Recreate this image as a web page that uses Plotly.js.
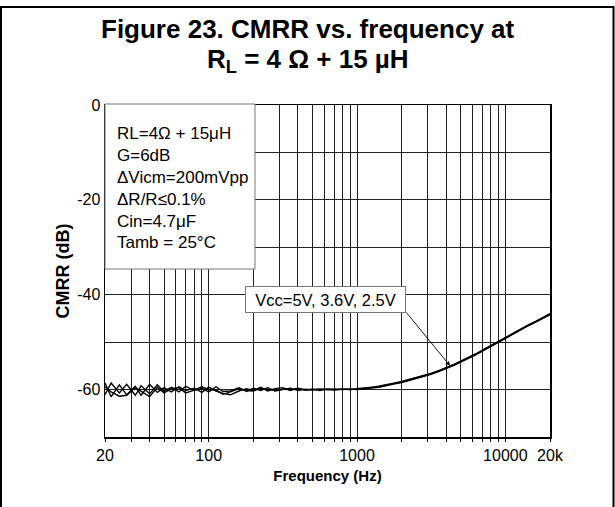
<!DOCTYPE html>
<html>
<head>
<meta charset="utf-8">
<script src="https://cdn.plot.ly/plotly-3.0.1.min.js"></script>
<style>html,body{margin:0;padding:0;background:#fff;}#chart{width:615px;height:507px;}</style>
</head>
<body>
<div id="chart"></div>
<script>
// ---- data ----
const freqHz = [20,22,25,28,32,35,40,45,50,56,63,70,80,90,
  100,112,125,140,160,180,200,224,250,280,315,355,400,450,500,560,630,710,800,900,
  1000,1120,1250,1400,1600,1800,2000,2240,2500,2800,3150,3550,4000,4500,5000,5600,6300,7100,8000,9000,
  10000,11200,12500,14000,16000,18000,20000];

const cmrrA = [-58.6,-61.5,-59.0,-61.1,-59.3,-61.2,-58.9,-60.6,-59.6,-60.5,-59.4,-60.2,-59.7,-60.6,
  -59.5,-60.3,-60.8,-61.1,-60.3,-59.8,-60.2,-59.5,-60.3,-59.8,-59.6,-60.2,-59.7,-60.1,-59.9,-60.2,-59.9,-60.0,-59.9,-60.0,
  -59.9,-59.8,-59.6,-59.4,-59.1,-58.7,-58.4,-58.0,-57.6,-57.2,-56.7,-56.1,-55.5,-54.8,-54.1,-53.4,-52.6,-51.7,-50.8,-49.9,
  -49.0,-48.2,-47.4,-46.6,-45.7,-44.9,-44.1];

const cmrrB = [-61.1,-58.6,-60.7,-58.9,-61.2,-59.2,-60.9,-59.0,-60.4,-59.5,-60.5,-59.3,-60.2,-59.7,
  -60.5,-59.4,-60.4,-60.3,-59.6,-60.4,-59.7,-60.2,-59.6,-60.3,-60.0,-59.7,-60.2,-59.9,-60.1,-59.9,-60.0,-59.9,-60.0,-59.9,
  -60.0,-59.9,-59.7,-59.5,-59.2,-58.8,-58.5,-58.1,-57.7,-57.3,-56.8,-56.2,-55.6,-54.9,-54.2,-53.5,-52.7,-51.8,-50.9,-50.0,
  -49.1,-48.3,-47.5,-46.7,-45.8,-45.0,-44.2];

const cmrrC = [-59.4,-60.5,-61.4,-61.2,-59.6,-60.3,-61.5,-59.5,-60.7,-59.8,-59.6,-60.7,-60.1,-59.4,
  -60.0,-60.1,-61.0,-60.5,-59.8,-60.2,-60.3,-59.7,-59.9,-60.2,-59.9,-60.0,-59.8,-60.1,-60.0,-59.9,-60.0,-60.1,-59.9,-60.0,
  -59.8,-59.7,-59.5,-59.3,-59.0,-58.6,-58.3,-57.9,-57.5,-57.1,-56.6,-56.0,-55.4,-54.7,-54.0,-53.3,-52.5,-51.6,-50.7,-49.8,
  -48.9,-48.1,-47.3,-46.5,-45.6,-44.8,-44.0];

const seriesNames = ['Vcc=5V', 'Vcc=3.6V', 'Vcc=2.5V'];

const xTickVals = [20,30,40,50,60,70,80,90,100,200,300,400,500,600,700,800,900,
  1000,2000,3000,4000,5000,6000,7000,8000,9000,10000,20000];
const xTickText = ['20','','','','','','','','100','','','','','','','','',
  '1000','','','','','','','','','10000','20k'];

const yTickVals = [0,-10,-20,-30,-40,-50,-60,-70];
const yTickText = ['0','','-20','','-40','','-60',''];

const conditionLines = ['RL=4Ω + 15μH', 'G=6dB', 'ΔVicm=200mVpp', 'ΔR/R≤0.1%', 'Cin=4.7μF', 'Tamb = 25°C'];
const calloutText = 'Vcc=5V, 3.6V, 2.5V';
const calloutFreq = 4240;
const calloutDb = -55.0;

const titleLines = ['<b>Figure 23. CMRR vs. frequency at</b>', '<b>R<sub>L</sub> = 4 Ω + 15 µH</b>'];

// ---- chart ----
const FONT = 'Liberation Sans, Arial, Helvetica, sans-serif';
const allSeries = [cmrrA, cmrrB, cmrrC];
const traces = allSeries.map((vals, i) => ({
  x: freqHz, y: vals, type: 'scatter', mode: 'lines', name: seriesNames[i],
  line: {color: '#000', width: 1.4}, hoverinfo: 'skip'
}));

const ML = 105, MR = 65, MT = 105, MB = 70, W = 615, H = 507;
const PW = W - ML - MR, PH = H - MT - MB;
const px = v => (v - ML) / PW;          // pixel x -> paper
const py = v => (H - MB - v) / PH;      // pixel y -> paper

const annotations = [];
const titleYs = [29, 60];
titleLines.forEach((t, i) => annotations.push({
  xref: 'paper', yref: 'paper', x: px(308), y: py(titleYs[i]),
  xanchor: 'center', yanchor: 'middle', showarrow: false, text: t,
  font: {family: FONT, size: 26, color: '#000'}
}));

const lineYs = [133, 155, 177, 199, 221, 243];
conditionLines.forEach((t, i) => annotations.push({
  xref: 'paper', yref: 'paper', x: px(115), y: py(lineYs[i]),
  xanchor: 'left', yanchor: 'middle', showarrow: false, text: t,
  font: {family: FONT, size: 17, color: '#000'}
}));
annotations.push({
  xref: 'paper', yref: 'paper', x: px(325.5), y: py(299.5),
  xanchor: 'center', yanchor: 'middle', showarrow: false, text: calloutText,
  font: {family: FONT, size: 16.5, color: '#000'},
  bgcolor: '#fff', bordercolor: '#777', borderwidth: 1, borderpad: 2,
  width: 155, height: 21
});
annotations.push({
  xref: 'x', yref: 'y', x: Math.log10(calloutFreq), y: calloutDb,
  text: '', showarrow: true, arrowhead: 2, arrowsize: 1, arrowwidth: 0.9,
  arrowcolor: '#000', axref: 'pixel', ayref: 'pixel', ax: -45, ay: -55
});

const shapes = [
  {type: 'rect', xref: 'paper', yref: 'paper', layer: 'above',
   x0: 0, x1: px(255), y0: py(269), y1: py(104),
   fillcolor: '#fff', line: {color: '#777', width: 1}},
  {type: 'path', xref: 'paper', yref: 'paper', layer: 'above',
   path: `M ${px(1)},${py(530)} L ${px(1)},${py(7)} L ${px(613.5)},${py(7)} L ${px(613.5)},${py(530)}`,
   line: {color: '#000', width: 2}}
];

const layout = {
  width: W, height: H,
  margin: {l: ML, r: MR, t: MT, b: MB, pad: 0},
  paper_bgcolor: '#fff', plot_bgcolor: '#fff',
  showlegend: false,
  font: {family: FONT, color: '#000'},
  xaxis: {type: 'log', range: [Math.log10(20), Math.log10(20000)],
          tickmode: 'array', tickvals: xTickVals, ticktext: xTickText,
          showgrid: true, gridcolor: '#222', gridwidth: 1,
          showline: true, linecolor: '#000', linewidth: 1.5, mirror: true,
          ticks: 'outside', ticklen: 3, tickcolor: '#000',
          tickfont: {family: FONT, size: 16, color: '#000'},
          zeroline: false, automargin: false,
          title: {text: '<b>Frequency (Hz)</b>', font: {family: FONT, size: 15, color: '#000'}, standoff: 8}},
  yaxis: {range: [-70, 0], tickmode: 'array', tickvals: yTickVals, ticktext: yTickText,
          showgrid: true, gridcolor: '#222', gridwidth: 1,
          showline: true, linecolor: '#000', linewidth: 1.5, mirror: true,
          ticks: '', tickfont: {family: FONT, size: 16, color: '#000'},
          zeroline: false, automargin: false,
          title: {text: '<b>CMRR (dB)</b>', font: {family: FONT, size: 18, color: '#000'}, standoff: 3}},
  annotations: annotations,
  shapes: shapes
};

Plotly.newPlot('chart', traces, layout, {staticPlot: true, displayModeBar: false});
</script>
</body>
</html>
